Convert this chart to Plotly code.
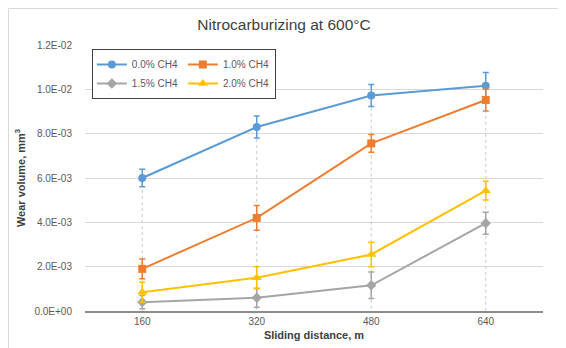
import plotly.graph_objects as go

categories = ["160", "320", "480", "640"]
series_names = ["0.0% CH4", "1.0% CH4", "1.5% CH4", "2.0% CH4"]
ch4_00 = [6.0e-3, 8.3e-3, 9.72e-3, 1.016e-2]
ch4_10 = [1.9e-3, 4.2e-3, 7.56e-3, 9.52e-3]
ch4_15 = [0.4e-3, 0.6e-3, 1.16e-3, 3.96e-3]
ch4_20 = [0.85e-3, 1.5e-3, 2.55e-3, 5.43e-3]
err_00 = [0.4e-3, 0.5e-3, 0.5e-3, 0.6e-3]
err_10 = [0.45e-3, 0.56e-3, 0.4e-3, 0.5e-3]
err_15 = [0.3e-3, 0.43e-3, 0.6e-3, 0.5e-3]
err_20 = [0.45e-3, 0.5e-3, 0.55e-3, 0.42e-3]
y_tickvals = [0, 0.002, 0.004, 0.006, 0.008, 0.010, 0.012]
y_ticktext = ["0.0E+00", "2.0E-03", "4.0E-03", "6.0E-03", "8.0E-03", "1.0E-02", "1.2E-02"]

values = [ch4_00, ch4_10, ch4_15, ch4_20]
errors = [err_00, err_10, err_15, err_20]
colors = ["#5B9BD5", "#ED7D31", "#A5A5A5", "#FFC000"]
symbols = ["circle", "square", "diamond", "triangle-up"]
sizes = [8, 8, 8, 9]
groups = ["g1", "g2", "g1", "g2"]

FONT = "Liberation Sans, Arial, sans-serif"

# the page body has an 8px margin, so the figure is laid out 8px smaller
W, H = 558, 340
L, T, R, B = 77, 37, 23, 37
PW, PH = W - L - R, H - T - B

fig = go.Figure()

# drop lines from highest point to axis
dx, dy = [], []
for i, c in enumerate(categories):
    top = max(v[i] for v in values)
    dx += [c, c, None]
    dy += [top, 0, None]
fig.add_trace(go.Scatter(x=dx, y=dy, mode="lines", showlegend=False, hoverinfo="skip",
                         line=dict(color="#C8C8C8", width=1, dash="dot")))

for name, v, e, col, sym, sz, g in zip(series_names, values, errors, colors, symbols, sizes, groups):
    fig.add_trace(go.Scatter(
        x=categories, y=v, name=name, mode="lines+markers", legendgroup=g,
        line=dict(color=col, width=2),
        marker=dict(color=col, symbol=sym, size=sz),
        error_y=dict(type="data", array=e, visible=True, color=col, thickness=1.5, width=3),
    ))

fig.update_layout(
    width=W, height=H,
    margin=dict(l=L, r=R, t=T, b=B, autoexpand=False),
    paper_bgcolor="white", plot_bgcolor="white",
    font=dict(family=FONT, color="#595959", size=10),
    title=dict(text="Nitrocarburizing at 600°C", x=276 / W, xref="container", xanchor="center",
               y=1 - 17 / H, yref="container", yanchor="middle", automargin=False,
               font=dict(family=FONT, size=15.5, color="#404040")),
    showlegend=True,
    legend=dict(orientation="h", traceorder="grouped", x=0.015, y=0.985, xanchor="left", yanchor="top",
                bordercolor="#404040", borderwidth=1, bgcolor="white", itemwidth=30,
                tracegroupgap=4,
                font=dict(family=FONT, size=10, color="#595959")),
    xaxis=dict(type="category", range=[-0.5, 3.5], showgrid=False, showline=True, automargin=False,
               linecolor="#8C8C8C", linewidth=1.5, ticks="", tickfont=dict(size=10, color="#595959"),
               title=dict(text="<b>Sliding distance, m</b>", standoff=6,
                          font=dict(family=FONT, size=11, color="#404040"))),
    yaxis=dict(range=[0, 0.012], tickvals=y_tickvals, ticktext=y_ticktext, showgrid=True, automargin=False,
               gridcolor="#D9D9D9", gridwidth=1, zeroline=False, showline=False, ticks="",
               ticklabelstandoff=12, tickfont=dict(size=10, color="#595959"),
               title=dict(text="<b>Wear volume, mm<sup>3</sup></b>", standoff=6,
                          font=dict(family=FONT, size=11, color="#404040"))),
    shapes=[dict(type="rect", xref="paper", yref="paper", x0=(0.5 - L) / PW, x1=(557 - L) / PW,
                 y0=-0.3, y1=1 + (T - 0.5) / PH, line=dict(color="#D9D9D9", width=1), layer="below")],
)

fig.write_html("out.html")
